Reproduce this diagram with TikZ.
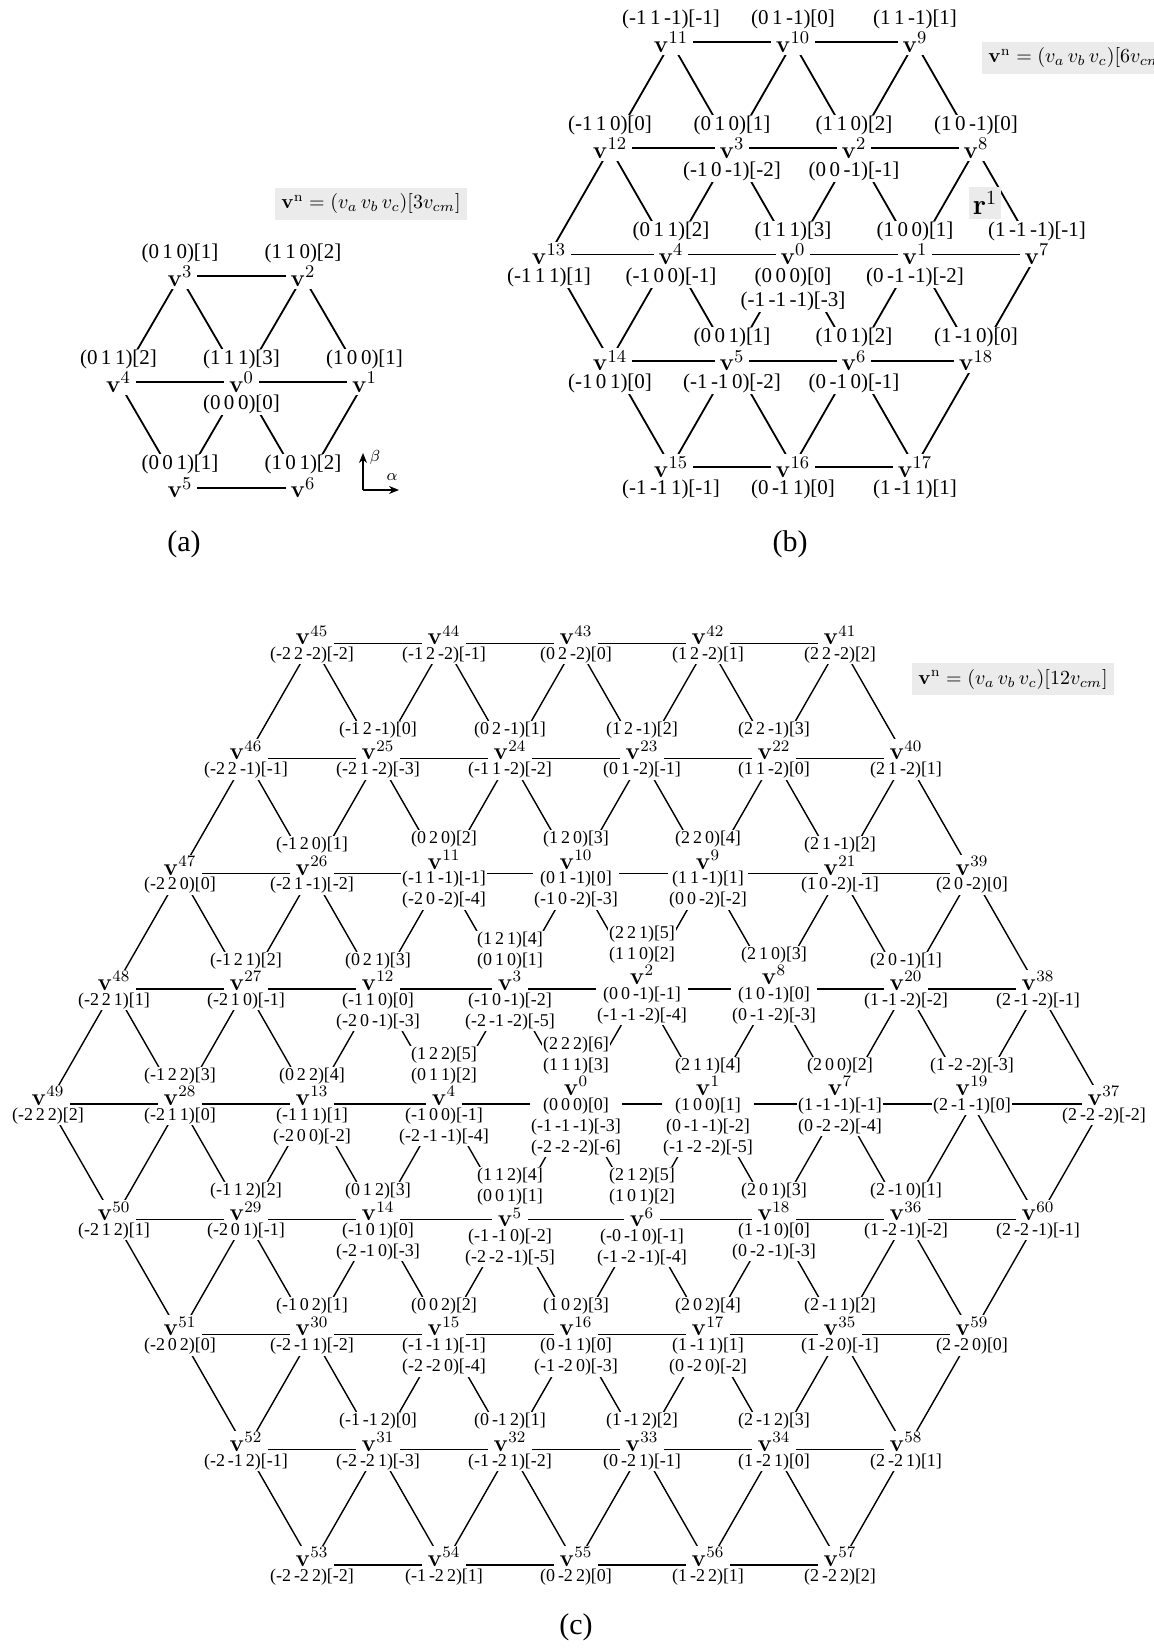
\documentclass[tikz,border=0pt]{standalone}
\usepackage[no-math]{fontspec}
\setmainfont{Liberation Serif}
\usetikzlibrary{arrows.meta}
\pgfdeclarelayer{bg}
\pgfsetlayers{bg,main}

\newcommand\TR[4]{(#1\,#2\,#3)[#4]}
% #1 stack shift (px), #2 number, #3 row r, #4 column j (=2k), #5 labels above, #6 labels below
\newcommand\Vtx[6][0]{%
  \pgfmathsetmacro\vxx{\cx+\sx*(#4)/2}%
  \pgfmathsetmacro\vyy{\cy+\hy*(#3)}%
  \pgfmathsetmacro\vys{\vyy+(#1)}%
  \pgfmathtruncatemacro\RR{#3+\NN}%
  \pgfmathtruncatemacro\JJ{#4+2*\NN}%
  \coordinate (\pfx L\RR-\JJ) at (\vxx,\vyy);%
  \if\relax\detokenize{#5}\relax\else
    \node[lab,anchor=south] (\pfx#2a) at (\vxx,{\vys+\adY}) {#5};\fi
  \if\relax\detokenize{#6}\relax\else
    \node[lab,anchor=north] (\pfx#2b) at (\vxx,{\vys+\bdY}) {#6};\fi
  \node[vn] (\pfx#2) at (\vxx,{\vys+\vdY}) {$\mathbf{v}^{#2}$};%
}
\newcommand\Edges{%
  \pgfmathtruncatemacro\NNm{-\NN}%
  \foreach \ri in {\NNm,...,\NN}{%
    \pgfmathtruncatemacro\mm{2*\NN-abs(\ri)}%
    \pgfmathtruncatemacro\ma{-\mm}%
    \pgfmathtruncatemacro\mb{-\mm+2}%
    \pgfmathtruncatemacro\RR{\ri+\NN}%
    \pgfmathtruncatemacro\Rn{\ri+\NN+1}%
    \foreach \ji in {\ma,\mb,...,\mm}{%
      \pgfmathtruncatemacro\JJ{\ji+2*\NN}%
      \pgfmathtruncatemacro\Jp{\JJ+2}%
      \pgfmathtruncatemacro\Jr{\JJ+1}%
      \pgfmathtruncatemacro\Jl{\JJ-1}%
      \ifnum\ji<\mm \draw[lk] (\pfx L\RR-\JJ) -- (\pfx L\RR-\Jp);\fi
      \ifnum\ri<\NN
        \pgfmathtruncatemacro\okr{or(\ri<0,\ji<\mm)}%
        \pgfmathtruncatemacro\okl{or(\ri<0,\ji>\ma)}%
        \ifnum\okr=1 \draw[lk] (\pfx L\RR-\JJ) -- (\pfx L\Rn-\Jr);\fi
        \ifnum\okl=1 \draw[lk] (\pfx L\RR-\JJ) -- (\pfx L\Rn-\Jl);\fi
      \fi
    }%
  }%
}

\begin{document}
\begin{tikzpicture}[x=0.5pt,y=-0.5pt,
  fm/.style={fill=black!8,inner sep=3pt,font=\fontsize{10.4}{12}\selectfont},
  captxt/.style={font=\fontsize{15}{18}\selectfont}]
\path[use as bounding box] (0,0) rectangle (1153,1648);

%================ (a) =================
\tikzset{vn/.style={fill=white,inner xsep=2.5pt,inner ysep=0pt,minimum height=12.5pt,font=\fontsize{13}{15}\selectfont},
  lab/.style={fill=white,inner sep=0.5pt,align=center,font=\fontsize{10.5}{12}\selectfont},
  lk/.style={line width=0.9pt}}
\def\pfx{a}\def\NN{1}\def\cx{241.5}\def\cy{382}\def\sx{123}\def\hy{105.7}
\def\vdY{0}\def\adY{-12}\def\bdY{12}
\Vtx{3}{-1}{-1}{\TR{0}{1}{0}{1}}{}
\Vtx{2}{-1}{1}{\TR{1}{1}{0}{2}}{}
\Vtx{4}{0}{-2}{\TR{0}{1}{1}{2}}{}
\Vtx{0}{0}{0}{\TR{1}{1}{1}{3}}{\TR{0}{0}{0}{0}}
\Vtx{1}{0}{2}{\TR{1}{0}{0}{1}}{}
\Vtx{5}{1}{-1}{\TR{0}{0}{1}{1}}{}
\Vtx{6}{1}{1}{\TR{1}{0}{1}{2}}{}
\begin{pgfonlayer}{bg}\Edges\end{pgfonlayer}
\node[fm] (fa) at (371,204) {$\mathbf{v}^{\mathrm{n}}=(v_{a}\,v_{b}\,v_{c})[3v_{cm}]$};
\coordinate (ax0) at (363,490);
\coordinate (axb) at (363,453);
\coordinate (axa) at (399,490);
\draw[line width=0.8pt,-{Stealth[length=5pt,width=4pt]}] (ax0) -- (axb);
\draw[line width=0.8pt,-{Stealth[length=5pt,width=4pt]}] (ax0) -- (axa);
\node[font=\fontsize{8}{9}\selectfont] (beta) at (375,457) {$\beta$};
\node[font=\fontsize{8}{9}\selectfont] (alpha) at (392,477) {$\alpha$};
\node[captxt] (capa) at (184,544) {(a)};

%================ (b) =================
\def\pfx{b}\def\NN{2}\def\cx{793}\def\cy{254.5}\def\sx{122}\def\hy{106.2}
\def\vdY{0}\def\adY{-12}\def\bdY{12}
\Vtx{11}{-2}{-2}{\TR{-1}{1}{-1}{-1}}{}
\Vtx{10}{-2}{0}{\TR{0}{1}{-1}{0}}{}
\Vtx{9}{-2}{2}{\TR{1}{1}{-1}{1}}{}
\Vtx{12}{-1}{-3}{\TR{-1}{1}{0}{0}}{}
\Vtx{3}{-1}{-1}{\TR{0}{1}{0}{1}}{\TR{-1}{0}{-1}{-2}}
\Vtx{2}{-1}{1}{\TR{1}{1}{0}{2}}{\TR{0}{0}{-1}{-1}}
\Vtx{8}{-1}{3}{\TR{1}{0}{-1}{0}}{}
\Vtx{13}{0}{-4}{}{\TR{-1}{1}{1}{1}}
\Vtx{4}{0}{-2}{\TR{0}{1}{1}{2}}{\TR{-1}{0}{0}{-1}}
\Vtx{0}{0}{0}{\TR{1}{1}{1}{3}}{\TR{0}{0}{0}{0}\\\TR{-1}{-1}{-1}{-3}}
\Vtx{1}{0}{2}{\TR{1}{0}{0}{1}}{\TR{0}{-1}{-1}{-2}}
\Vtx{7}{0}{4}{\TR{1}{-1}{-1}{-1}}{}
\Vtx{14}{1}{-3}{}{\TR{-1}{0}{1}{0}}
\Vtx{5}{1}{-1}{\TR{0}{0}{1}{1}}{\TR{-1}{-1}{0}{-2}}
\Vtx{6}{1}{1}{\TR{1}{0}{1}{2}}{\TR{0}{-1}{0}{-1}}
\Vtx{18}{1}{3}{\TR{1}{-1}{0}{0}}{}
\Vtx{15}{2}{-2}{}{\TR{-1}{-1}{1}{-1}}
\Vtx{16}{2}{0}{}{\TR{0}{-1}{1}{0}}
\Vtx{17}{2}{2}{}{\TR{1}{-1}{1}{1}}
\begin{pgfonlayer}{bg}\Edges\end{pgfonlayer}
\node[fm,anchor=west] (fb) at (982,58) {$\mathbf{v}^{\mathrm{n}}=(v_{a}\,v_{b}\,v_{c})[6v_{cm}]$};
\node[fill=black!8,inner sep=2pt,font=\fontsize{14}{16}\selectfont] (r1) at (985,203) {$\mathbf{r}^{1}$};
\node[captxt] (capb) at (790,544) {(b)};

%================ (c) =================
\tikzset{vn/.style={fill=white,inner xsep=3pt,inner ysep=0pt,minimum height=11pt,font=\fontsize{12}{14}\selectfont},
  lab/.style={fill=white,inner sep=0.5pt,align=center,font=\fontsize{9}{10.5}\selectfont},
  lk/.style={line width=0.7pt}}
\def\pfx{c}\def\NN{4}\def\cx{576}\def\cy{1104}\def\sx{132}\def\hy{115.2}
\def\vdY{-8}\def\adY{-18.5}\def\bdY{2.5}
% row -4
\Vtx{45}{-4}{-4}{}{\TR{-2}{2}{-2}{-2}}
\Vtx{44}{-4}{-2}{}{\TR{-1}{2}{-2}{-1}}
\Vtx{43}{-4}{0}{}{\TR{0}{2}{-2}{0}}
\Vtx{42}{-4}{2}{}{\TR{1}{2}{-2}{1}}
\Vtx{41}{-4}{4}{}{\TR{2}{2}{-2}{2}}
% row -3
\Vtx{46}{-3}{-5}{}{\TR{-2}{2}{-1}{-1}}
\Vtx{25}{-3}{-3}{\TR{-1}{2}{-1}{0}}{\TR{-2}{1}{-2}{-3}}
\Vtx{24}{-3}{-1}{\TR{0}{2}{-1}{1}}{\TR{-1}{1}{-2}{-2}}
\Vtx{23}{-3}{1}{\TR{1}{2}{-1}{2}}{\TR{0}{1}{-2}{-1}}
\Vtx{22}{-3}{3}{\TR{2}{2}{-1}{3}}{\TR{1}{1}{-2}{0}}
\Vtx{40}{-3}{5}{}{\TR{2}{1}{-2}{1}}
% row -2
\Vtx{47}{-2}{-6}{}{\TR{-2}{2}{0}{0}}
\Vtx{26}{-2}{-4}{\TR{-1}{2}{0}{1}}{\TR{-2}{1}{-1}{-2}}
\Vtx[-6]{11}{-2}{-2}{\TR{0}{2}{0}{2}}{\TR{-1}{1}{-1}{-1}\\\TR{-2}{0}{-2}{-4}}
\Vtx[-6]{10}{-2}{0}{\TR{1}{2}{0}{3}}{\TR{0}{1}{-1}{0}\\\TR{-1}{0}{-2}{-3}}
\Vtx[-6]{9}{-2}{2}{\TR{2}{2}{0}{4}}{\TR{1}{1}{-1}{1}\\\TR{0}{0}{-2}{-2}}
\Vtx{21}{-2}{4}{\TR{2}{1}{-1}{2}}{\TR{1}{0}{-2}{-1}}
\Vtx{39}{-2}{6}{}{\TR{2}{0}{-2}{0}}
% row -1
\Vtx{48}{-1}{-7}{}{\TR{-2}{2}{1}{1}}
\Vtx{27}{-1}{-5}{\TR{-1}{2}{1}{2}}{\TR{-2}{1}{0}{-1}}
\Vtx{12}{-1}{-3}{\TR{0}{2}{1}{3}}{\TR{-1}{1}{0}{0}\\\TR{-2}{0}{-1}{-3}}
\Vtx{3}{-1}{-1}{\TR{1}{2}{1}{4}\\\TR{0}{1}{0}{1}}{\TR{-1}{0}{-1}{-2}\\\TR{-2}{-1}{-2}{-5}}
\Vtx[-6]{2}{-1}{1}{\TR{2}{2}{1}{5}\\\TR{1}{1}{0}{2}}{\TR{0}{0}{-1}{-1}\\\TR{-1}{-1}{-2}{-4}}
\Vtx[-6]{8}{-1}{3}{\TR{2}{1}{0}{3}}{\TR{1}{0}{-1}{0}\\\TR{0}{-1}{-2}{-3}}
\Vtx{20}{-1}{5}{\TR{2}{0}{-1}{1}}{\TR{1}{-1}{-2}{-2}}
\Vtx{38}{-1}{7}{}{\TR{2}{-1}{-2}{-1}}
% row 0
\Vtx{49}{0}{-8}{}{\TR{-2}{2}{2}{2}}
\Vtx{28}{0}{-6}{\TR{-1}{2}{2}{3}}{\TR{-2}{1}{1}{0}}
\Vtx{13}{0}{-4}{\TR{0}{2}{2}{4}}{\TR{-1}{1}{1}{1}\\\TR{-2}{0}{0}{-2}}
\Vtx{4}{0}{-2}{\TR{1}{2}{2}{5}\\\TR{0}{1}{1}{2}}{\TR{-1}{0}{0}{-1}\\\TR{-2}{-1}{-1}{-4}}
\Vtx[-10]{0}{0}{0}{\TR{2}{2}{2}{6}\\\TR{1}{1}{1}{3}}{\TR{0}{0}{0}{0}\\\TR{-1}{-1}{-1}{-3}\\\TR{-2}{-2}{-2}{-6}}
\Vtx[-10]{1}{0}{2}{\TR{2}{1}{1}{4}}{\TR{1}{0}{0}{1}\\\TR{0}{-1}{-1}{-2}\\\TR{-1}{-2}{-2}{-5}}
\Vtx[-10]{7}{0}{4}{\TR{2}{0}{0}{2}}{\TR{1}{-1}{-1}{-1}\\\TR{0}{-2}{-2}{-4}}
\Vtx[-10]{19}{0}{6}{\TR{1}{-2}{-2}{-3}}{\TR{2}{-1}{-1}{0}}
\Vtx{37}{0}{8}{}{\TR{2}{-2}{-2}{-2}}
% row 1
\Vtx{50}{1}{-7}{}{\TR{-2}{1}{2}{1}}
\Vtx{29}{1}{-5}{\TR{-1}{1}{2}{2}}{\TR{-2}{0}{1}{-1}}
\Vtx{14}{1}{-3}{\TR{0}{1}{2}{3}}{\TR{-1}{0}{1}{0}\\\TR{-2}{-1}{0}{-3}}
\Vtx[6]{5}{1}{-1}{\TR{1}{1}{2}{4}\\\TR{0}{0}{1}{1}}{\TR{-1}{-1}{0}{-2}\\\TR{-2}{-2}{-1}{-5}}
\Vtx[6]{6}{1}{1}{\TR{2}{1}{2}{5}\\\TR{1}{0}{1}{2}}{\TR{-0}{-1}{0}{-1}\\\TR{-1}{-2}{-1}{-4}}
\Vtx{18}{1}{3}{\TR{2}{0}{1}{3}}{\TR{1}{-1}{0}{0}\\\TR{0}{-2}{-1}{-3}}
\Vtx{36}{1}{5}{\TR{2}{-1}{0}{1}}{\TR{1}{-2}{-1}{-2}}
\Vtx{60}{1}{7}{}{\TR{2}{-2}{-1}{-1}}
% row 2
\Vtx{51}{2}{-6}{}{\TR{-2}{0}{2}{0}}
\Vtx{30}{2}{-4}{\TR{-1}{0}{2}{1}}{\TR{-2}{-1}{1}{-2}}
\Vtx{15}{2}{-2}{\TR{0}{0}{2}{2}}{\TR{-1}{-1}{1}{-1}\\\TR{-2}{-2}{0}{-4}}
\Vtx{16}{2}{0}{\TR{1}{0}{2}{3}}{\TR{0}{-1}{1}{0}\\\TR{-1}{-2}{0}{-3}}
\Vtx{17}{2}{2}{\TR{2}{0}{2}{4}}{\TR{1}{-1}{1}{1}\\\TR{0}{-2}{0}{-2}}
\Vtx{35}{2}{4}{\TR{2}{-1}{1}{2}}{\TR{1}{-2}{0}{-1}}
\Vtx{59}{2}{6}{}{\TR{2}{-2}{0}{0}}
% row 3
\Vtx{52}{3}{-5}{}{\TR{-2}{-1}{2}{-1}}
\Vtx{31}{3}{-3}{\TR{-1}{-1}{2}{0}}{\TR{-2}{-2}{1}{-3}}
\Vtx{32}{3}{-1}{\TR{0}{-1}{2}{1}}{\TR{-1}{-2}{1}{-2}}
\Vtx{33}{3}{1}{\TR{1}{-1}{2}{2}}{\TR{0}{-2}{1}{-1}}
\Vtx{34}{3}{3}{\TR{2}{-1}{2}{3}}{\TR{1}{-2}{1}{0}}
\Vtx{58}{3}{5}{}{\TR{2}{-2}{1}{1}}
% row 4
\Vtx{53}{4}{-4}{}{\TR{-2}{-2}{2}{-2}}
\Vtx{54}{4}{-2}{}{\TR{-1}{-2}{2}{1}}
\Vtx{55}{4}{0}{}{\TR{0}{-2}{2}{0}}
\Vtx{56}{4}{2}{}{\TR{1}{-2}{2}{1}}
\Vtx{57}{4}{4}{}{\TR{2}{-2}{2}{2}}
\begin{pgfonlayer}{bg}\Edges\end{pgfonlayer}
\node[fm] (fc) at (1013,679) {$\mathbf{v}^{\mathrm{n}}=(v_{a}\,v_{b}\,v_{c})[12v_{cm}]$};
\node[captxt] (capc) at (576,1627) {(c)};
\end{tikzpicture}
\end{document}
